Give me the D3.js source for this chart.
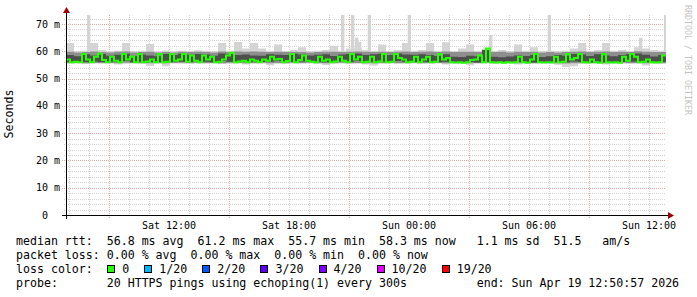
<!DOCTYPE html>
<html>
<head>
<meta charset="utf-8">
<script src="https://cdn.jsdelivr.net/npm/d3@7"></script>
<style>
body { margin: 0; background: #fff; }
svg text { font-family: "DejaVu Sans Mono", monospace; white-space: pre; }
</style>
</head>
<body>
<svg id="chart" width="697" height="297"></svg>
<script>
const width = 697;
const height = 297;

const startTime = new Date(2026, 3, 18, 6, 50, 57);
const endTime = new Date(2026, 3, 19, 12, 50, 57);

// median rtt in ms, one value per 12 minutes
const medStep = 12;
const median = [
  57, 56, 56.2, 56, 59, 57, 56, 58, 59.2, 56.8, 56, 58, 56.5, 56, 59,
  57, 58, 56, 59, 56, 56.3, 57, 56, 59, 56, 56.2, 59, 56.5, 57, 59,
  56.2, 58.5, 56.5, 56, 58.5, 57, 58, 56, 56.2, 57, 58.5, 59.5, 56, 56.3, 56.5,
  56, 57, 56.5, 56, 57, 56.5, 58, 57, 57.2, 56, 56.4, 59, 56, 56.8, 58.5,
  56.5, 56.2, 56, 58, 56.5, 57, 56, 56.3, 58, 56.5, 56, 59, 57, 58, 56,
  56.2, 58, 56, 56.3, 59, 56, 56.2, 59, 57.5, 57, 56, 56.2, 58, 56, 57,
  58, 56, 56.2, 59, 57, 57.5, 56, 55.9, 56, 55.8, 56, 56.8, 57, 58.5, 56,
  61, 56, 55.9, 56, 55.8, 56, 55.9, 56, 58, 56, 55.8, 57, 59, 56, 55.9,
  56, 55.9, 58, 56, 56.2, 59, 57, 57.5, 59, 56, 55.9, 57, 56, 55.8, 59,
  56, 55.9, 56, 55.8, 58, 56.5, 59, 58, 56, 56.2, 57, 56, 55.9, 56, 58.5
];

// smoke quantiles in ms, one value per 24 minutes
const smokeStep = 24;
const pingMin = [
  55.4, 55.5, 55.3, 55.5, 55.4, 55.5, 55.2, 55.4, 55.5, 55.3, 54.6, 55.4, 54.5, 55.5, 55.4,
  55.3, 55.5, 55.4, 55.5, 55.3, 55.4, 55.5, 55.2, 55.4, 55.5, 54.9, 55.4, 55.3, 55.5, 55.4,
  55.5, 55.3, 55.0, 55.4, 55.5, 55.3, 55.4, 55.2, 54.8, 55.4, 55.5, 55.3, 55.4, 55.5, 55.3,
  55.4, 55.5, 55.2, 55.4, 55.3, 54.9, 55.4, 55.5, 55.3, 55.4, 55.5, 55.2, 55.4, 55.3, 55.5,
  55.4, 55.1, 54.2, 54.5, 55.3, 55.4, 55.5, 55.2, 55.4, 55.5, 55.3, 55.4, 54.8, 55.4, 55.3
];
const pingLow = [
  55.7, 55.8, 55.6, 55.7, 55.8, 55.7, 55.6, 55.8, 55.7, 55.7, 55.6, 55.8, 55.6, 55.7, 55.8,
  55.7, 55.8, 55.7, 55.7, 55.6, 55.8, 55.7, 55.6, 55.7, 55.8, 55.6, 55.7, 55.7, 55.8, 55.7,
  55.8, 55.7, 55.6, 55.7, 55.8, 55.7, 55.7, 55.6, 55.6, 55.7, 55.8, 55.7, 55.7, 55.8, 55.7,
  55.7, 55.8, 55.6, 55.7, 55.7, 55.6, 55.7, 55.8, 55.7, 55.7, 55.8, 55.6, 55.7, 55.7, 55.8,
  55.7, 55.6, 55.5, 55.6, 55.7, 55.7, 55.8, 55.6, 55.7, 55.8, 55.7, 55.7, 55.6, 55.7, 55.7
];
const pingQ1 = [
  56.2, 56.0, 56.1, 56.3, 56.0, 56.2, 56.1, 56.4, 56.0, 56.2, 56.1, 56.0, 56.3, 56.1, 56.2,
  56.1, 56.3, 56.2, 56.0, 56.4, 56.2, 56.1, 56.3, 56.2, 56.1, 56.2, 56.4, 56.1, 56.2, 56.3,
  56.1, 56.2, 56.0, 56.1, 56.3, 56.2, 56.4, 56.1, 56.2, 56.3, 56.1, 56.4, 56.2, 56.1, 56.2,
  56.1, 56.0, 56.2, 55.9, 56.0, 56.1, 55.9, 56.2, 55.9, 56.0, 55.9, 56.1, 56.0, 55.9, 56.0,
  55.9, 56.1, 56.0, 56.3, 56.1, 55.9, 56.2, 56.0, 55.9, 56.1, 56.2, 56.3, 56.0, 55.9, 56.1
];
const pingQ3 = [
  58.6, 58.2, 58.9, 58.5, 59.0, 58.4, 58.7, 59.1, 58.3, 58.8, 58.5, 58.2, 59.0, 58.6, 59.1,
  58.7, 59.0, 58.8, 58.4, 59.2, 58.9, 58.6, 58.8, 58.5, 58.4, 58.9, 58.7, 58.6, 59.1, 58.8,
  58.5, 58.7, 58.9, 58.3, 58.8, 59.0, 59.2, 58.6, 58.9, 59.1, 58.6, 59.2, 58.8, 58.7, 58.9,
  58.6, 58.3, 58.9, 58.0, 57.9, 58.4, 58.2, 60.5, 58.0, 57.8, 58.1, 58.5, 58.3, 58.6, 57.9,
  58.2, 58.6, 58.4, 59.0, 58.8, 58.3, 58.9, 58.5, 58.2, 58.6, 59.0, 59.2, 58.7, 58.1, 58.6
];
const pingHigh = [
  59.8, 59.6, 59.7, 59.9, 59.7, 59.6, 59.8, 59.9, 59.6, 59.7, 59.8, 59.6, 59.7, 59.6, 59.8,
  59.7, 59.8, 59.7, 59.6, 59.9, 59.7, 59.9, 59.8, 59.9, 59.8, 59.7, 59.8, 59.7, 59.8, 59.7,
  59.6, 59.7, 59.8, 59.8, 59.7, 59.8, 59.9, 59.8, 59.7, 59.8, 59.7, 59.8, 59.9, 59.7, 59.8,
  59.9, 59.7, 59.9, 59.7, 59.8, 59.8, 59.7, 60.2, 59.7, 59.8, 59.6, 59.8, 59.7, 59.8, 59.6,
  59.7, 59.6, 59.7, 59.8, 59.9, 59.7, 59.8, 59.9, 59.7, 59.8, 59.7, 60.0, 59.8, 59.7, 59.7
];
const pingMax = [
  63, 60, 60.2, 63, 60.5, 60, 60.2, 63, 60, 60.2, 62.7, 60, 60.3, 60, 60.2,
  60, 60.4, 60.2, 60, 63, 60.2, 63.4, 61, 63, 61, 60.2, 62.5, 60, 60.5, 61.5,
  60, 60.2, 60.5, 62, 60.2, 61, 61, 60.5, 60.2, 62.5, 60, 60.5, 63, 60.2, 60.5,
  63, 60.2, 63.3, 60, 61, 62.5, 60.2, 61, 60, 60.5, 60, 62.5, 60.2, 61.5, 60,
  60.2, 60, 60.2, 61, 63, 60, 60.5, 63, 60.2, 60.5, 60, 61.5, 61, 60.5, 60.2
];

// single-sample outliers (max ping), time and top in ms
const spikeTimes = [
  "2026-04-18T07:54", "2026-04-18T20:36", "2026-04-18T21:06", "2026-04-18T21:18",
  "2026-04-18T21:27", "2026-04-18T21:56", "2026-04-18T23:56", "2026-04-19T04:00",
  "2026-04-19T06:56", "2026-04-19T11:30", "2026-04-19T12:45"
];
const spikeTops = [73.3, 73.3, 73.3, 65, 63.5, 73.3, 73.3, 66, 73.3, 65, 73.3];

const yTicks = [0, 10, 20, 30, 40, 50, 60, 70];

const lossLabels = ["0", "1/20", "2/20", "3/20", "4/20", "10/20", "19/20"];
const lossColors = ["#26ff00", "#00b8ff", "#0059ff", "#5e00ff", "#7e00ff", "#dd00ff", "#ff0000"];

const legendLines = [
  "median rtt:  56.8 ms avg  61.2 ms max  55.7 ms min  58.3 ms now   1.1 ms sd  51.5   am/s",
  "packet loss: 0.00 % avg  0.00 % max  0.00 % min  0.00 % now",
  "loss color:",
  "probe:       20 HTTPS pings using echoping(1) every 300s          end: Sun Apr 19 12:50:57 2026"
];

const plotLeft = 66, plotRight = 666, plotTop = 15, plotBottom = 215;
const svg = d3.select('#chart');

const x = d3.scaleTime().domain([startTime, endTime]).range([plotLeft, plotRight]);
const y = d3.scaleLinear().domain([0, 73.3]).range([plotBottom, plotTop]);

const fmtTick = d3.timeFormat('%a %H:%M');

// grid
const hours = d3.timeHour.range(startTime, endTime);
const gGrid = svg.append('g');
hours.forEach(h => {
  const px = Math.round(x(h)) + 0.5;
  const major = h.getHours() % 6 === 3;
  gGrid.append('line')
    .attr('x1', px).attr('x2', px).attr('y1', plotTop).attr('y2', plotBottom + (major ? 3 : 2))
    .attr('stroke', major ? '#e2a9a9' : '#d4d4d4')
    .attr('stroke-dasharray', '1,1');
});
d3.range(2, 73, 2).forEach(v => {
  const py = Math.round(y(v)) + 0.5;
  const major = v % 10 === 0;
  gGrid.append('line')
    .attr('x1', plotLeft - (major ? 4 : 2)).attr('x2', plotRight).attr('y1', py).attr('y2', py)
    .attr('stroke', major ? '#e2a9a9' : '#d4d4d4')
    .attr('stroke-dasharray', '1,1');
});

// data
const clip = svg.append('clipPath').attr('id', 'plot');
clip.append('rect').attr('x', plotLeft).attr('y', plotTop).attr('width', plotRight - plotLeft).attr('height', plotBottom - plotTop);
const gData = svg.append('g').attr('clip-path', 'url(#plot)');

function stepTime(i, step) {
  return d3.timeMinute.offset(startTime, i * step);
}

function withEnd(arr, step) {
  const pts = arr.map((v, i) => ({ t: stepTime(i, step), i: i }));
  pts.push({ t: endTime, i: arr.length - 1 });
  return pts;
}

const smokePts = withEnd(pingMin, smokeStep);

function band(lo, hi, color) {
  const area = d3.area()
    .x(d => x(d.t))
    .y0(d => y(lo[d.i]))
    .y1(d => y(hi[d.i]))
    .curve(d3.curveStepAfter);
  gData.append('path').datum(smokePts).attr('d', area).attr('fill', color);
}

gData.selectAll('.spike')
  .data(spikeTimes)
  .enter().append('rect')
  .attr('class', 'spike')
  .attr('x', d => x(new Date(d + ':00')))
  .attr('width', d => x(d3.timeMinute.offset(new Date(d + ':00'), 10)) - x(new Date(d + ':00')))
  .attr('y', (d, i) => y(spikeTops[i]))
  .attr('height', (d, i) => y(57) - y(spikeTops[i]))
  .attr('fill', '#d4d4d4');

band(pingMin, pingMax, '#d4d4d4');
band(pingLow, pingHigh, '#8e8e8e');
band(pingQ1, pingQ3, '#4e4e4e');

const medPts = withEnd(median, medStep);
const medLine = d3.line()
  .x(d => x(d.t))
  .y(d => y(median[d.i]))
  .curve(d3.curveStepAfter);
gData.append('path').datum(medPts).attr('d', medLine)
  .attr('fill', 'none').attr('stroke', lossColors[0]).attr('stroke-width', 2);

// axes
svg.append('line').attr('x1', plotLeft - 4).attr('x2', plotRight + 4).attr('y1', plotBottom + 0.5).attr('y2', plotBottom + 0.5)
  .attr('stroke', '#000');
svg.append('line').attr('x1', plotLeft + 0.5).attr('x2', plotLeft + 0.5).attr('y1', plotBottom + 4).attr('y2', plotTop - 3)
  .attr('stroke', '#000');
svg.append('path').attr('d', `M${plotLeft - 3},${plotTop - 2}L${plotLeft + 4},${plotTop - 2}L${plotLeft + 0.5},${plotTop - 8}Z`).attr('fill', '#a00000');
svg.append('path').attr('d', `M${plotRight + 2},${plotBottom - 3}L${plotRight + 2},${plotBottom + 4}L${plotRight + 8},${plotBottom + 0.5}Z`).attr('fill', '#a00000');

// tick labels
d3.timeHour.every(6).range(startTime, endTime).forEach(h => {
  svg.append('text').attr('x', x(h)).attr('y', 228.5)
    .attr('text-anchor', 'middle').attr('font-size', '10px').attr('fill', '#000')
    .text(fmtTick(h));
});
yTicks.forEach(v => {
  svg.append('text').attr('x', v === 0 ? 48 : 60).attr('y', y(v) + 3.5)
    .attr('text-anchor', 'end').attr('font-size', '10px').attr('fill', '#000')
    .text(v === 0 ? '0' : v + ' m');
});

svg.append('text')
  .attr('transform', 'translate(13,114) rotate(-90)')
  .attr('text-anchor', 'middle').attr('font-size', '11.6px').attr('fill', '#000')
  .text('Seconds');

svg.append('text')
  .attr('transform', 'translate(685,5) rotate(90)')
  .attr('font-size', '8.3px').attr('fill', '#c4c4c4')
  .text('RRDTOOL / TOBI OETIKER');

// legend
const charW = 7.02;
const legendY = [245, 259, 273, 287];
legendLines.forEach((s, i) => {
  svg.append('text').attr('x', 16).attr('y', legendY[i])
    .attr('font-size', '11.6px').attr('fill', '#000').text(s);
});
let cursor = 16 + 13 * charW;
lossLabels.forEach((lab, i) => {
  svg.append('rect').attr('x', Math.round(cursor) + 0.5).attr('y', legendY[2] - 7.5)
    .attr('width', 7).attr('height', 7)
    .attr('fill', lossColors[i]).attr('stroke', '#000');
  const tx = cursor + 15;
  svg.append('text').attr('x', tx).attr('y', legendY[2])
    .attr('font-size', '11.6px').attr('fill', '#000').text(lab);
  cursor = tx + lab.length * charW + 15;
});
</script>
</body>
</html>
